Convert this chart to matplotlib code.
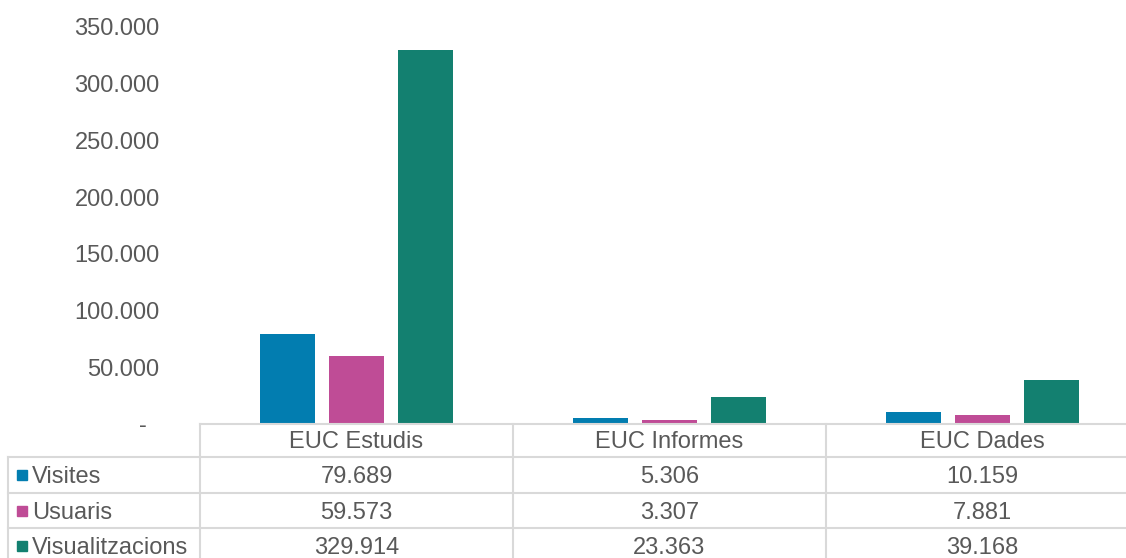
import matplotlib
matplotlib.use("Agg")
import matplotlib.pyplot as plt
import matplotlib.transforms as mtransforms
from matplotlib.lines import Line2D
from matplotlib.patches import Rectangle
from matplotlib.ticker import FuncFormatter
import numpy as np

categories = ["EUC Estudis", "EUC Informes", "EUC Dades"]
series_names = ["Visites", "Usuaris", "Visualitzacions"]
visites = [79689, 5306, 10159]
usuaris = [59573, 3307, 7881]
visualitzacions = [329914, 23363, 39168]
y_ticks = [0, 50000, 100000, 150000, 200000, 250000, 300000, 350000]

colors = ["#027db0", "#bf4c96", "#138070"]
text_col = "#595959"
line_col = "#d9d9d9"

plt.rcParams['font.family'] = ['Liberation Sans', 'DejaVu Sans']

W, H = 1126, 558
fig = plt.figure(figsize=(W / 100, H / 100), dpi=100)

def fx(px):
    return px / W

def fy(py):
    return 1 - py / H

ax = fig.add_axes([fx(200), fy(424), fx(939), fy(27) - fy(424)])

x = np.arange(len(categories))
width = 0.176
offset = 0.22
for i, vals in enumerate([visites, usuaris, visualitzacions]):
    ax.bar(x + (i - 1) * offset, vals, width, color=colors[i], zorder=2)

ax.set_xlim(-0.5, 2.5)
ax.set_ylim(0, 350000)
ax.set_yticks(y_ticks)


def fmt(v, pos):
    if v == 0:
        return "-  "
    return f"{int(v):,}".replace(",", ".")


ax.yaxis.set_major_formatter(FuncFormatter(fmt))
ax.tick_params(axis='y', length=0, pad=29, labelsize=17, labelcolor=text_col)
ax.set_xticks([])
for s in ["top", "right", "left"]:
    ax.spines[s].set_visible(False)
ax.spines["bottom"].set_color(line_col)
ax.spines["bottom"].set_linewidth(1.5)

# data table below the axes
tr = mtransforms.blended_transform_factory(ax.transData, fig.transFigure)

row_lines = [457, 493, 528]
for py in row_lines:
    fig.add_artist(Line2D([fx(8), 1.0], [fy(py), fy(py)], color=line_col, lw=1.5))

for xc in [-0.5, 0.5, 1.5]:
    fig.add_artist(Line2D([xc, xc], [fy(424), 0], transform=tr, color=line_col, lw=1.5))
fig.add_artist(Line2D([fx(8), fx(8)], [fy(457), 0], color=line_col, lw=1.5))

for i, cat in enumerate(categories):
    fig.text(i, fy(442), cat, transform=tr, ha="center", va="center",
             fontsize=17, color=text_col)

row_centers = [477, 513, 548]
for r, (name, vals) in enumerate(zip(series_names, [visites, usuaris, visualitzacions])):
    yc = row_centers[r]
    fig.add_artist(Rectangle((fx(17), fy(yc + 3)), fx(10), fy(yc - 7) - fy(yc + 3),
                             transform=fig.transFigure, color=colors[r]))
    fig.text(fx(32), fy(yc), name, ha="left", va="center", fontsize=17, color=text_col)
    for i, v in enumerate(vals):
        fig.text(i, fy(yc), f"{v:,}".replace(",", "."), transform=tr,
                 ha="center", va="center", fontsize=17, color=text_col)

fig.savefig("out.png", dpi=100)
